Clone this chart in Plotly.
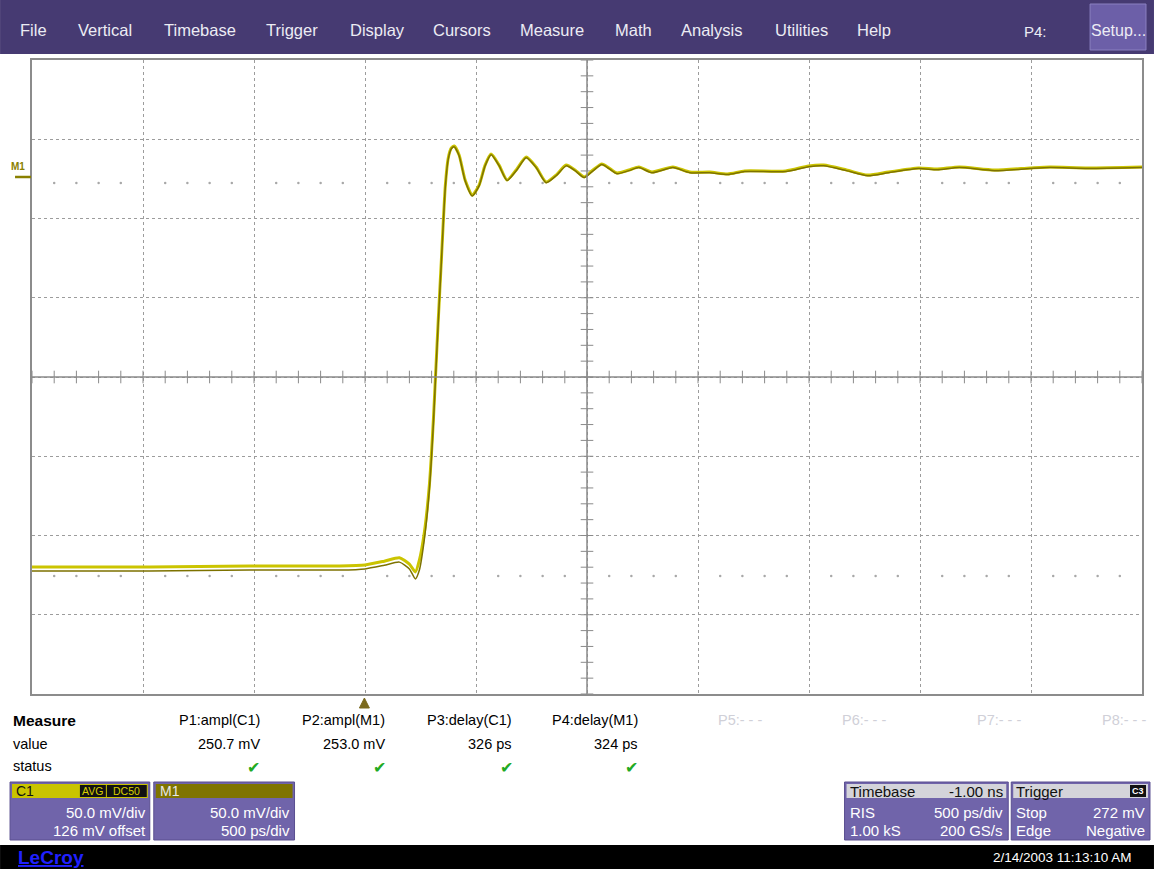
import plotly.graph_objects as go

# 時間軸 [ns]（トリガー = 0, 500 ps/div）
t_ns = [-1.5, -0.97, -0.52, -0.115, 0.0, 0.087, 0.155, 0.2, 0.227, 0.245,
        0.267, 0.29, 0.308, 0.317, 0.33, 0.344, 0.353, 0.362, 0.375, 0.389,
        0.402, 0.424, 0.451, 0.483, 0.514, 0.541, 0.568, 0.604, 0.64, 0.681,
        0.726, 0.771, 0.816, 0.861, 0.906, 0.946, 0.987, 1.027, 1.067, 1.099,
        1.135, 1.189, 1.234, 1.292, 1.387, 1.463, 1.553, 1.634, 1.71, 1.895,
        1.998, 2.066, 2.169, 2.264, 2.358, 2.493, 2.578, 2.677, 2.835, 2.996,
        3.086, 3.257, 3.5]

# C1 波形 [mV]
c1_mv = [6.1, 6.1, 6.8, 6.8, 7.4, 9.8, 12.0, 8.0, 3.0, 10.5,
         27.6, 57.9, 98.9, 124.7, 162.0, 199.8, 225.0, 247.1, 264.2, 270.5,
         271.7, 266.1, 250.3, 240.8, 247.1, 259.7, 266.7, 259.7, 250.3, 256.6,
         264.8, 258.5, 249.0, 253.4, 259.7, 256.6, 252.2, 256.6, 260.4, 257.9,
         254.7, 256.6, 258.5, 255.3, 258.5, 255.3, 255.3, 254.1, 256.0, 256.0,
         259.1, 259.7, 256.6, 253.4, 255.3, 257.9, 257.2, 258.5, 256.6, 257.9,
         258.5, 257.9, 258.5]

# M1 波形 [mV]
m1_mv = [3.6, 3.6, 4.2, 4.2, 4.9, 7.2, 9.2, 4.9, -1.4, 4.2,
         23.2, 55.0, 96.5, 123.0, 160.5, 198.6, 224.0, 246.2, 263.5, 270.0,
         271.2, 265.6, 249.8, 240.2, 246.6, 259.2, 266.2, 259.3, 249.9, 256.1,
         264.3, 258.1, 248.6, 253.0, 259.2, 256.2, 251.8, 256.1, 260.0, 257.5,
         254.3, 256.2, 258.1, 254.9, 258.1, 254.9, 254.9, 253.7, 255.6, 255.6,
         258.7, 259.3, 256.2, 253.0, 254.9, 257.5, 256.8, 258.1, 256.2, 257.5,
         258.1, 257.5, 258.1]

# 画面設定
x_range = [-1.5, 3.5]        # 500 ps/div x 10
y_range = [-74, 326]         # 50 mV/div x 8, offset 126 mV
x_center, y_center = 1.0, 126
ref_levels = [0.4, 248.4]    # ドット表示の基準レベル

menu_items = ["File", "Vertical", "Timebase", "Trigger", "Display", "Cursors",
              "Measure", "Math", "Analysis", "Utilities", "Help"]
menu_x = [34, 105, 200, 292, 378, 463, 553, 635, 713, 803, 876]

meas_names = ["P1:ampl(C1)", "P2:ampl(M1)", "P3:delay(C1)", "P4:delay(M1)",
              "P5:- - -", "P6:- - -", "P7:- - -", "P8:- - -"]
meas_values = ["250.7 mV", "253.0 mV", "326 ps", "324 ps", "", "", "", ""]
meas_status = [True, True, True, True, False, False, False, False]
meas_x = [262, 388, 515, 641, 765, 890, 1025, 1150]

W, H = 1156, 869
L, R, T, B = 32, 12, 60, 175
FONT = "Liberation Sans, Arial, sans-serif"


def fx(px):
    return (px - L) / (W - L - R)


def fy(py):
    return (H - B - py) / (H - T - B)


def rect(x0, y0, x1, y1, color, line=None, width=0):
    return dict(type="rect", xref="paper", yref="paper",
                x0=fx(x0), x1=fx(x1), y0=fy(y1), y1=fy(y0),
                fillcolor=color, line=dict(color=line or color, width=width),
                layer="above")


def text(px, py, s, size=13, color="black", anchor="left", bold=False):
    if bold:
        s = f"<b>{s}</b>"
    return dict(xref="paper", yref="paper", x=fx(px), y=fy(py), text=s,
                showarrow=False, xanchor=anchor, yanchor="middle",
                font=dict(family=FONT, size=size, color=color))


fig = go.Figure()

# 中心線の目盛り
minor_x = [x_range[0] + 0.1 * i for i in range(51)]
minor_y = [y_range[0] + 10 * i for i in range(41)]
fig.add_trace(go.Scatter(x=minor_x, y=[y_center] * len(minor_x), mode="markers",
                         marker=dict(symbol="line-ns", size=9,
                                     line=dict(color="#8a8a8a", width=1)),
                         hoverinfo="skip"))
fig.add_trace(go.Scatter(x=[x_center] * len(minor_y), y=minor_y, mode="markers",
                         marker=dict(symbol="line-ew", size=9,
                                     line=dict(color="#8a8a8a", width=1)),
                         hoverinfo="skip"))

# 基準レベルのドット
dot_x = [x for x in minor_x if abs((x - x_range[0]) / 0.5 - round((x - x_range[0]) / 0.5)) > 0.01]
for lv in ref_levels:
    fig.add_trace(go.Scatter(x=dot_x, y=[lv] * len(dot_x), mode="markers",
                             marker=dict(size=2.5, color="#a8a8a8"),
                             hoverinfo="skip"))

# 波形
fig.add_trace(go.Scatter(x=t_ns, y=c1_mv, mode="lines", name="C1",
                         line=dict(color="#cbc400", width=3, shape="spline",
                                   smoothing=0.6)))
fig.add_trace(go.Scatter(x=t_ns, y=m1_mv, mode="lines", name="M1",
                         line=dict(color="#7d7200", width=1.5, shape="spline",
                                   smoothing=0.6)))

shapes = [
    # 中心線
    dict(type="line", xref="x", yref="paper", x0=x_center, x1=x_center, y0=0, y1=1,
         line=dict(color="#8a8a8a", width=1.5)),
    dict(type="line", xref="paper", yref="y", x0=0, x1=1, y0=y_center, y1=y_center,
         line=dict(color="#8a8a8a", width=1.5)),
    # メニューバー
    rect(0, 0, W, 54, "#463a72"),
    rect(1092, 4, 1148, 50, "#6c5fa8", "#8a80c0", 1),
    # M1 マーカー
    dict(type="line", xref="paper", yref="paper", x0=fx(15), x1=fx(31),
         y0=fy(177), y1=fy(177), line=dict(color="#8a8000", width=2.5)),
    # トリガー位置
    dict(type="path", xref="paper", yref="paper",
         path=f"M {fx(360)} {fy(708)} L {fx(370)} {fy(708)} L {fx(365)} {fy(698)} Z",
         fillcolor="#7b6a1e", line=dict(color="#7b6a1e", width=1)),
    # チャンネルボックス
    rect(10, 782, 150, 840, "#7064aa", "#5a4f90", 1),
    rect(12, 784, 148, 798, "#c9c400"),
    rect(80, 785, 106, 797, "#111111"),
    rect(107, 785, 147, 797, "#111111"),
    rect(154, 782, 295, 840, "#7064aa", "#5a4f90", 1),
    rect(156, 784, 293, 798, "#7f7400"),
    rect(846, 782, 1010, 840, "#7064aa", "#5a4f90", 1),
    rect(848, 784, 1008, 798, "#d4d4da"),
    rect(1013, 782, 1152, 840, "#7064aa", "#5a4f90", 1),
    rect(1015, 784, 1150, 798, "#d4d4da"),
    rect(1132, 785, 1148, 797, "#111111"),
    # 下部バー
    rect(0, 845, W, H, "#000000"),
]

ann = []
for name, xp in zip(menu_items, menu_x):
    ann.append(text(xp, 30, name, 16.5, "#ececf4", "center"))
ann.append(text(1037, 31, "P4:", 15, "#ececf4", "center"))
ann.append(text(1120, 30, "Setup...", 16, "#ececf4", "center"))
ann.append(text(18, 167, "M1", 10, "#8a8000", "center", True))

ann.append(text(11, 720, "Measure", 15.5, "black", "left", True))
ann.append(text(11, 744, "value", 14.5))
ann.append(text(11, 766, "status", 14.5))
for name, val, ok, xp in zip(meas_names, meas_values, meas_status, meas_x):
    ann.append(text(xp, 720, name, 14.5, "black" if ok else "#d0d0d8", "right"))
    if val:
        ann.append(text(xp, 744, val, 14.5, "black", "right"))
    if ok:
        ann.append(text(xp - 8, 767, "✔", 16, "#22aa22", "center"))

ann.append(text(14, 791, "C1", 14, "#111111"))
ann.append(text(93, 791, "AVG", 10.5, "#d8d000", "center"))
ann.append(text(127, 791, "DC50", 10.5, "#d8d000", "center"))
ann.append(text(148, 812, "50.0 mV/div", 15, "white", "right"))
ann.append(text(148, 830, "126 mV offset", 15, "white", "right"))
ann.append(text(158, 791, "M1", 14, "#e8e8e8"))
ann.append(text(292, 812, "50.0 mV/div", 15, "white", "right"))
ann.append(text(292, 830, "500 ps/div", 15, "white", "right"))

ann.append(text(849, 791, "Timebase", 15, "#111111"))
ann.append(text(1007, 791, "-1.00 ns", 15, "#111111", "right"))
ann.append(text(849, 812, "RIS", 15, "white"))
ann.append(text(1007, 812, "500 ps/div", 15, "white", "right"))
ann.append(text(849, 830, "1.00 kS", 15, "white"))
ann.append(text(1007, 830, "200 GS/s", 15, "white", "right"))
ann.append(text(1016, 791, "Trigger", 15, "#111111"))
ann.append(text(1140, 791, "C3", 9, "white", "center", True))
ann.append(text(1016, 812, "Stop", 15, "white"))
ann.append(text(1149, 812, "272 mV", 15, "white", "right"))
ann.append(text(1016, 830, "Edge", 15, "white"))
ann.append(text(1149, 830, "Negative", 15, "white", "right"))

ann.append(text(16, 857, "<u>LeCroy</u>", 19, "#2020ff", "left", True))
ann.append(text(1136, 857, "2/14/2003 11:13:10 AM", 13.5, "white", "right"))

fig.update_layout(
    width=W, height=H,
    margin=dict(l=L, r=R, t=T, b=B),
    paper_bgcolor="white", plot_bgcolor="white",
    showlegend=False,
    shapes=shapes,
    annotations=ann,
    xaxis=dict(range=x_range, tick0=x_range[0], dtick=0.5, showticklabels=False,
               showgrid=True, gridcolor="#9c9c9c", griddash="dot", gridwidth=1,
               zeroline=False, showline=True, mirror=True, linecolor="#8c8c8c",
               linewidth=2, fixedrange=True),
    yaxis=dict(range=y_range, tick0=y_range[0], dtick=50, showticklabels=False,
               showgrid=True, gridcolor="#9c9c9c", griddash="dot", gridwidth=1,
               zeroline=False, showline=True, mirror=True, linecolor="#8c8c8c",
               linewidth=2, fixedrange=True),
)

fig.write_html("out.html", config={"displayModeBar": False},
               post_script="document.body.style.margin='0';")
